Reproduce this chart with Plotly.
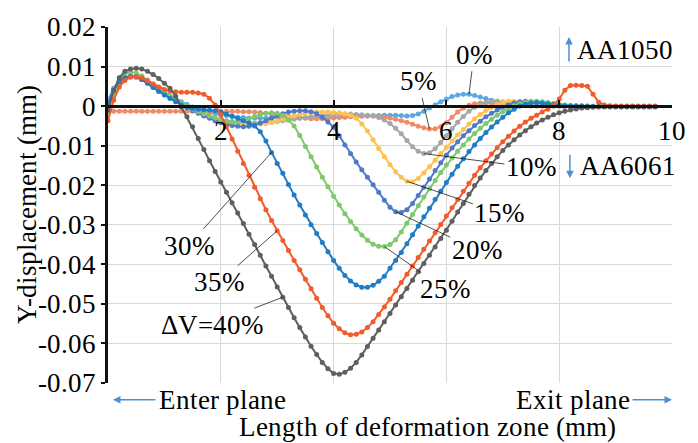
import base64
import glob
import json

import numpy as np
import plotly.graph_objects as go

# Sampling positions along the deformation zone (mm), 0.0 ... 9.7
x_mm = np.round(np.arange(98) * 0.1, 1)

# Y-displacement (mm) for each volume fraction of AA6061
dv_00 = [
    0.0015, 0.0045, 0.0062, 0.0071, 0.0074, 0.0073, 0.0068, 0.0060, 0.0051, 0.0042,
    0.0034, 0.0026, 0.0018, 0.0011, 0.0004, -0.0002, -0.0008, -0.0012, -0.0016, -0.0019,
    -0.0022, -0.0024, -0.0026, -0.0028, -0.0029, -0.0030, -0.0030, -0.0031, -0.0031, -0.0031,
    -0.0030, -0.0030, -0.0030, -0.0029, -0.0029, -0.0029, -0.0028, -0.0028, -0.0028, -0.0028,
    -0.0028, -0.0027, -0.0027, -0.0026, -0.0026, -0.0025, -0.0025, -0.0024, -0.0024, -0.0023,
    -0.0023, -0.0023, -0.0024, -0.0025, -0.0024, -0.0020, -0.0013, -0.0005, 0.0003, 0.0011,
    0.0018, 0.0024, 0.0028, 0.0030, 0.0030, 0.0027, 0.0023, 0.0019, 0.0015, 0.0012,
    0.0009, 0.0007, 0.0005, 0.0004, 0.0003, 0.0002, 0.0001, 0.0001, 0.0000, 0.0000,
    0.0000, -0.0001, -0.0001, -0.0001, -0.0001, -0.0001, -0.0001, -0.0001, -0.0001, -0.0001,
    -0.0001, -0.0001, -0.0001, -0.0001, -0.0001, -0.0001, -0.0001, -0.0001,
]
dv_05 = [
    -0.0012, -0.0013, -0.0013, -0.0013, -0.0013, -0.0013, -0.0013, -0.0013, -0.0013, -0.0013,
    -0.0013, -0.0013, -0.0013, -0.0013, -0.0013, -0.0013, -0.0013, -0.0013, -0.0013, -0.0013,
    -0.0013, -0.0013, -0.0013, -0.0013, -0.0014, -0.0014, -0.0015, -0.0016, -0.0018, -0.0020,
    -0.0022, -0.0024, -0.0026, -0.0028, -0.0030, -0.0031, -0.0032, -0.0032, -0.0032, -0.0031,
    -0.0030, -0.0029, -0.0028, -0.0027, -0.0026, -0.0025, -0.0025, -0.0025, -0.0026, -0.0028,
    -0.0030, -0.0033, -0.0037, -0.0041, -0.0046, -0.0051, -0.0055, -0.0058, -0.0057, -0.0052,
    -0.0042, -0.0028, -0.0015, -0.0005, 0.0002, 0.0006, 0.0008, 0.0008, 0.0007, 0.0005,
    0.0004, 0.0003, 0.0002, 0.0001, 0.0001, 0.0000, 0.0000, 0.0000, 0.0000, 0.0000,
    0.0000, 0.0000, -0.0001, -0.0001, -0.0001, -0.0001, -0.0001, -0.0001, -0.0001, -0.0001,
    -0.0001, -0.0001, -0.0001, -0.0001, -0.0001, -0.0001, -0.0001, -0.0001,
]
dv_10 = [
    -0.0015, 0.0030, 0.0060, 0.0072, 0.0075, 0.0073, 0.0067, 0.0059, 0.0050, 0.0040,
    0.0031, 0.0022, 0.0014, 0.0006, -0.0002, -0.0009, -0.0016, -0.0022, -0.0027, -0.0031,
    -0.0034, -0.0037, -0.0039, -0.0041, -0.0042, -0.0043, -0.0043, -0.0043, -0.0042, -0.0041,
    -0.0039, -0.0037, -0.0035, -0.0033, -0.0031, -0.0029, -0.0027, -0.0025, -0.0023, -0.0022,
    -0.0021, -0.0020, -0.0020, -0.0020, -0.0021, -0.0022, -0.0023, -0.0025, -0.0029, -0.0035,
    -0.0044, -0.0056, -0.0070, -0.0087, -0.0103, -0.0114, -0.0120, -0.0118, -0.0108, -0.0092,
    -0.0075, -0.0057, -0.0041, -0.0026, -0.0013, -0.0003, 0.0004, 0.0009, 0.0012, 0.0012,
    0.0011, 0.0009, 0.0007, 0.0005, 0.0003, 0.0002, 0.0001, 0.0000, 0.0000, 0.0000,
    0.0000, 0.0000, 0.0000, 0.0000, -0.0001, -0.0001, -0.0001, -0.0001, -0.0001, -0.0001,
    -0.0001, -0.0001, -0.0001, -0.0001, -0.0001, -0.0001, -0.0001, -0.0001,
]
dv_15 = [
    -0.0015, 0.0030, 0.0060, 0.0072, 0.0075, 0.0073, 0.0067, 0.0058, 0.0049, 0.0039,
    0.0030, 0.0021, 0.0013, 0.0005, -0.0003, -0.0010, -0.0017, -0.0023, -0.0029, -0.0034,
    -0.0038, -0.0041, -0.0043, -0.0045, -0.0046, -0.0047, -0.0047, -0.0046, -0.0044, -0.0041,
    -0.0037, -0.0033, -0.0029, -0.0025, -0.0021, -0.0018, -0.0016, -0.0015, -0.0015, -0.0015,
    -0.0016, -0.0017, -0.0019, -0.0023, -0.0031, -0.0045, -0.0063, -0.0085, -0.0107, -0.0128,
    -0.0148, -0.0166, -0.0180, -0.0190, -0.0191, -0.0183, -0.0169, -0.0153, -0.0137, -0.0120,
    -0.0104, -0.0088, -0.0073, -0.0059, -0.0045, -0.0032, -0.0021, -0.0011, -0.0003, 0.0004,
    0.0009, 0.0012, 0.0012, 0.0011, 0.0009, 0.0007, 0.0005, 0.0003, 0.0002, 0.0001,
    0.0000, 0.0000, 0.0000, 0.0000, -0.0001, -0.0001, -0.0001, -0.0001, -0.0001, -0.0001,
    -0.0001, -0.0001, -0.0001, -0.0001, -0.0001, -0.0001, -0.0001, -0.0001,
]
dv_20 = [
    -0.0010, 0.0035, 0.0062, 0.0073, 0.0076, 0.0074, 0.0068, 0.0060, 0.0050, 0.0040,
    0.0030, 0.0021, 0.0012, 0.0004, -0.0004, -0.0011, -0.0018, -0.0025, -0.0031, -0.0037,
    -0.0042, -0.0046, -0.0049, -0.0051, -0.0052, -0.0051, -0.0048, -0.0043, -0.0037, -0.0030,
    -0.0024, -0.0019, -0.0015, -0.0013, -0.0012, -0.0012, -0.0014, -0.0019, -0.0028, -0.0040,
    -0.0053, -0.0075, -0.0098, -0.0120, -0.0141, -0.0161, -0.0180, -0.0199, -0.0218, -0.0238,
    -0.0256, -0.0267, -0.0269, -0.0262, -0.0246, -0.0226, -0.0205, -0.0184, -0.0163, -0.0143,
    -0.0124, -0.0106, -0.0090, -0.0075, -0.0062, -0.0049, -0.0038, -0.0027, -0.0018, -0.0010,
    -0.0003, 0.0003, 0.0008, 0.0011, 0.0012, 0.0011, 0.0009, 0.0007, 0.0005, 0.0003,
    0.0002, 0.0001, 0.0000, 0.0000, 0.0000, 0.0000, -0.0001, -0.0001, -0.0001, -0.0001,
    -0.0001, -0.0001, -0.0001, -0.0001, -0.0001, -0.0001, -0.0001, -0.0001,
]
dv_25 = [
    -0.0015, 0.0030, 0.0065, 0.0082, 0.0086, 0.0084, 0.0076, 0.0066, 0.0055, 0.0045,
    0.0035, 0.0025, 0.0016, 0.0008, 0.0000, -0.0008, -0.0014, -0.0020, -0.0025, -0.0030,
    -0.0034, -0.0038, -0.0040, -0.0040, -0.0037, -0.0032, -0.0026, -0.0021, -0.0018, -0.0017,
    -0.0018, -0.0024, -0.0035, -0.0050, -0.0074, -0.0102, -0.0128, -0.0154, -0.0180, -0.0204,
    -0.0228, -0.0250, -0.0272, -0.0292, -0.0310, -0.0326, -0.0339, -0.0349, -0.0354, -0.0355,
    -0.0350, -0.0338, -0.0318, -0.0296, -0.0274, -0.0252, -0.0230, -0.0209, -0.0188, -0.0168,
    -0.0149, -0.0131, -0.0114, -0.0098, -0.0083, -0.0069, -0.0056, -0.0044, -0.0033, -0.0023,
    -0.0014, -0.0006, 0.0001, 0.0006, 0.0010, 0.0012, 0.0012, 0.0011, 0.0009, 0.0007,
    0.0005, 0.0003, 0.0002, 0.0001, 0.0000, 0.0000, 0.0000, -0.0001, -0.0001, -0.0001,
    -0.0001, -0.0001, -0.0001, -0.0001, -0.0001, -0.0001, -0.0001, -0.0001,
]
dv_30 = [
    0.0005, 0.0040, 0.0062, 0.0072, 0.0075, 0.0074, 0.0067, 0.0058, 0.0047, 0.0037,
    0.0028, 0.0019, 0.0011, 0.0003, -0.0003, -0.0006, -0.0008, -0.0009, -0.0010, -0.0012,
    -0.0015, -0.0020, -0.0025, -0.0031, -0.0037, -0.0043, -0.0050, -0.0065, -0.0088, -0.0117,
    -0.0145, -0.0170, -0.0198, -0.0225, -0.0250, -0.0275, -0.0300, -0.0322, -0.0345, -0.0368,
    -0.0390, -0.0410, -0.0428, -0.0442, -0.0452, -0.0458, -0.0458, -0.0453, -0.0443, -0.0430,
    -0.0410, -0.0390, -0.0370, -0.0348, -0.0325, -0.0303, -0.0280, -0.0258, -0.0236, -0.0215,
    -0.0193, -0.0172, -0.0152, -0.0133, -0.0115, -0.0098, -0.0082, -0.0067, -0.0053, -0.0040,
    -0.0028, -0.0017, -0.0008, 0.0000, 0.0005, 0.0008, 0.0009, 0.0008, 0.0006, 0.0004,
    0.0002, 0.0001, 0.0000, 0.0000, 0.0000, -0.0001, -0.0001, -0.0001, -0.0001, -0.0001,
    -0.0001, -0.0001, -0.0001, -0.0001, -0.0001, -0.0001, -0.0001, -0.0001,
]
dv_35 = [
    -0.0037, 0.0015, 0.0048, 0.0065, 0.0073, 0.0075, 0.0071, 0.0064, 0.0056, 0.0048,
    0.0042, 0.0038, 0.0036, 0.0035, 0.0035, 0.0035, 0.0033, 0.0030, 0.0020, 0.0003,
    -0.0022, -0.0052, -0.0083, -0.0114, -0.0145, -0.0175, -0.0205, -0.0234, -0.0262, -0.0289,
    -0.0315, -0.0340, -0.0365, -0.0390, -0.0414, -0.0438, -0.0462, -0.0486, -0.0509, -0.0530,
    -0.0549, -0.0563, -0.0573, -0.0578, -0.0577, -0.0571, -0.0560, -0.0545, -0.0527, -0.0508,
    -0.0488, -0.0467, -0.0446, -0.0425, -0.0404, -0.0383, -0.0362, -0.0341, -0.0320, -0.0299,
    -0.0278, -0.0257, -0.0236, -0.0215, -0.0195, -0.0175, -0.0156, -0.0138, -0.0121, -0.0105,
    -0.0090, -0.0076, -0.0063, -0.0051, -0.0040, -0.0031, -0.0023, -0.0015, -0.0008, 0.0002,
    0.0018, 0.0040, 0.0052, 0.0053, 0.0052, 0.0050, 0.0030, 0.0010, 0.0003, 0.0001,
    0.0000, 0.0000, 0.0000, 0.0000, 0.0000, 0.0000, 0.0000, 0.0000,
]
dv_40 = [
    -0.0010, 0.0040, 0.0072, 0.0088, 0.0094, 0.0096, 0.0094, 0.0088, 0.0080, 0.0070,
    0.0058, 0.0045, 0.0025, -0.0002, -0.0027, -0.0052, -0.0082, -0.0110, -0.0138, -0.0165,
    -0.0192, -0.0218, -0.0244, -0.0270, -0.0297, -0.0324, -0.0350, -0.0377, -0.0404, -0.0430,
    -0.0457, -0.0483, -0.0509, -0.0535, -0.0560, -0.0584, -0.0607, -0.0628, -0.0648, -0.0664,
    -0.0676, -0.0678, -0.0673, -0.0663, -0.0648, -0.0629, -0.0608, -0.0587, -0.0566, -0.0545,
    -0.0524, -0.0503, -0.0482, -0.0461, -0.0440, -0.0419, -0.0398, -0.0377, -0.0356, -0.0335,
    -0.0314, -0.0291, -0.0268, -0.0246, -0.0223, -0.0201, -0.0182, -0.0163, -0.0145, -0.0128,
    -0.0112, -0.0098, -0.0085, -0.0073, -0.0062, -0.0052, -0.0043, -0.0035, -0.0028, -0.0022,
    -0.0017, -0.0013, -0.0010, -0.0007, -0.0005, -0.0004, -0.0003, -0.0002, -0.0002, -0.0002,
    -0.0002, -0.0002, -0.0002, -0.0002, -0.0002, -0.0002, -0.0002, -0.0002,
]

series = [dv_00, dv_05, dv_10, dv_15, dv_20, dv_25, dv_30, dv_35, dv_40]
labels = ["0%", "5%", "10%", "15%", "20%", "25%", "30%", "35%", "\u0394V=40%"]
colors = ["#5AAAE0", "#F28A68", "#A6A6A6", "#FFC24F", "#5179C9",
          "#7DC96C", "#1F7CC7", "#F25B2A", "#5F5F5F"]

# Label placement: (sample index the leader points to, label x, label y)
label_spots = [
    (64, 6.49, 0.0130),
    (57, 5.50, 0.00625),
    (56, 7.50, -0.0155),
    (53, 6.94, -0.0270),
    (51, 6.54, -0.03625),
    (49, 5.97, -0.04625),
    (29, 1.43, -0.03525),
    (30, 1.97, -0.0445),
    (31, 1.84, -0.05525),
]

y_ticks = [0.02, 0.01, 0.0, -0.01, -0.02, -0.03, -0.04, -0.05, -0.06, -0.07]
y_tick_text = ["0.02", "0.01", "0", "-0.01", "-0.02", "-0.03", "-0.04", "-0.05", "-0.06", "-0.07"]
x_ticks = [2, 4, 6, 8, 10]

# Times-style serif face, taken from the local Liberation Serif file when present
face_rule = ""
font_files = []
for root in ("/usr/share/fonts", "/usr/local/share/fonts"):
    font_files += glob.glob(root + "/**/LiberationSerif-Regular.ttf", recursive=True)
    font_files += glob.glob(root + "/**/Tinos-Regular.ttf", recursive=True)
if font_files:
    with open(font_files[0], "rb") as fh:
        b64 = base64.b64encode(fh.read()).decode("ascii")
    face_rule = ("@font-face{font-family:'ChartSerif';font-style:normal;font-weight:400;"
                 "font-display:swap;src:url(data:font/ttf;base64," + b64 + ") format('truetype');}")

SERIF = "Liberation Serif"
TXT = "black"
ARROW_BLUE = "#4A8FD6"
FS = 27

# Stylesheet applied to every SVG text node of the figure
text_rule = (".js-plotly-plot .main-svg text, .js-plotly-plot .main-svg tspan"
             "{font-family:'ChartSerif','Liberation Serif','Times New Roman',Tinos,serif !important;}")


def serif_font(size=FS):
    return {"family": SERIF, "size": size, "color": TXT}


fig = go.Figure()
for ys, name, col in zip(series, labels, colors):
    fig.add_trace(go.Scatter(
        x=x_mm, y=ys, mode="lines+markers", name=name,
        line=dict(color=col, width=2),
        marker=dict(color=col, size=5),
        cliponaxis=False, showlegend=False,
    ))

# Percentage labels with thin leader lines to their curves
for (idx, lx, ly), ys, name in zip(label_spots, series, labels):
    fig.add_annotation(
        x=x_mm[idx], y=ys[idx], xref="x", yref="y",
        ax=lx, ay=ly, axref="x", ayref="y",
        text=name, showarrow=True, arrowhead=0, arrowwidth=0.8,
        arrowcolor="#222222", standoff=0, font=serif_font(),
    )

# Material markers on the right: upward for AA1050, downward for AA6061
fig.add_annotation(x=8.174, y=0.0175, xref="x", yref="y", ax=0, ay=26, text="",
                   showarrow=True, arrowhead=2, arrowsize=1, arrowwidth=1.5,
                   arrowcolor=ARROW_BLUE)
fig.add_annotation(x=8.296, y=0.01425, xref="x", yref="y", text="AA1050", showarrow=False,
                   xanchor="left", yanchor="middle", font=serif_font())
fig.add_annotation(x=8.19, y=-0.01825, xref="x", yref="y", ax=0, ay=-25, text="",
                   showarrow=True, arrowhead=2, arrowsize=1, arrowwidth=1.5,
                   arrowcolor=ARROW_BLUE)
fig.add_annotation(x=8.35, y=-0.01525, xref="x", yref="y", text="AA6061", showarrow=False,
                   xanchor="left", yanchor="middle", font=serif_font())

# Entry / exit plane captions under the plot, and the two axis titles
fig.add_annotation(x=0.0087, y=-0.0471, xref="paper", yref="paper", ax=44, ay=0, text="",
                   showarrow=True, arrowhead=2, arrowsize=1, arrowwidth=1.5,
                   arrowcolor=ARROW_BLUE)
fig.add_annotation(x=0.0904, y=-0.0471, xref="paper", yref="paper", text="Enter plane",
                   showarrow=False, xanchor="left", yanchor="middle", font=serif_font())
fig.add_annotation(x=1.0, y=-0.0471, xref="paper", yref="paper", ax=-41, ay=0, text="",
                   showarrow=True, arrowhead=2, arrowsize=1, arrowwidth=1.5,
                   arrowcolor=ARROW_BLUE)
fig.add_annotation(x=0.925, y=-0.0471, xref="paper", yref="paper", text="Exit plane",
                   showarrow=False, xanchor="right", yanchor="middle", font=serif_font())
fig.add_annotation(x=0.566, y=-0.1247, xref="paper", yref="paper",
                   text="Length of deformation zone (mm)", showarrow=False,
                   xanchor="center", yanchor="middle", font=serif_font())
fig.add_annotation(x=-0.1443, y=0.501, xref="paper", yref="paper",
                   text="Y-displacement (mm)", showarrow=False, textangle=-90,
                   xanchor="center", yanchor="middle", font=serif_font())

y_min, y_max = -0.07, 0.02
fig.update_layout(
    width=698, height=443,
    margin=dict(l=108, r=15, t=22, b=60),
    paper_bgcolor="white", plot_bgcolor="white",
    font=serif_font(),
    xaxis=dict(
        range=[0, 10], tickvals=x_ticks, ticktext=[str(v) for v in x_ticks],
        anchor="free", position=(0 - y_min) / (y_max - y_min),
        showline=True, linecolor="#111111", linewidth=2.5,
        ticks="inside", ticklen=5, tickwidth=2, tickcolor="#111111",
        showgrid=True, gridcolor="#D9D9D9", gridwidth=1, zeroline=False,
        tickfont=serif_font(),
    ),
    yaxis=dict(
        range=[y_min, y_max], tickvals=y_ticks, ticktext=y_tick_text,
        showline=True, linecolor="#111111", linewidth=2.5,
        ticks="outside", ticklen=4, tickwidth=2, tickcolor="#111111",
        showgrid=True, gridcolor="#D9D9D9", gridwidth=1, zeroline=False,
        tickfont=serif_font(),
    ),
)

# Install the stylesheet, then redraw so annotation boxes are measured with the serif face
post_js = """
var css = %s;
var gd = document.getElementById('{plot_id}');
var st = document.createElement('style');
st.textContent = css;
document.head.appendChild(st);
function redraw() { Plotly.newPlot(gd, gd.data, gd.layout); }
if (document.fonts && document.fonts.load) {
  document.fonts.load('27px ChartSerif').then(redraw, redraw);
} else {
  redraw();
}
""" % json.dumps(face_rule + text_rule)

fig.write_html("out.html", post_script=post_js)
